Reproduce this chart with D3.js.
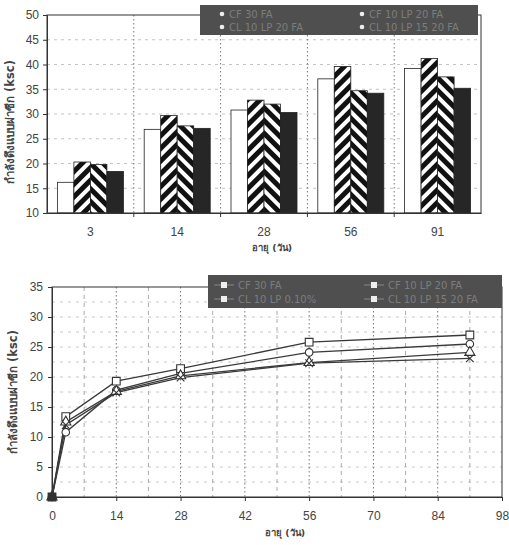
<!DOCTYPE html>
<html><head><meta charset="utf-8">
<script src="https://cdn.jsdelivr.net/npm/d3@7/dist/d3.min.js"></script>
<style>
body{margin:0;background:#fff;}
svg{display:block;font-family:"DejaVu Sans",Verdana,sans-serif;}
</style></head>
<body><svg id="c" width="509" height="545"></svg>
<script>
// ---- data: bar chart ----
const barAges = ["3","14","28","56","91"];
const barSeries = ["CF 30 FA","CF 10 LP 20 FA","CL 10 LP 20 FA","CL 10 LP 15 20 FA"];
const barS1 = [16.2, 26.9, 30.8, 37.1, 39.2];
const barS2 = [20.3, 29.7, 32.8, 39.6, 41.2];
const barS3 = [19.8, 27.6, 32.0, 34.7, 37.5];
const barS4 = [18.4, 27.1, 30.3, 34.2, 35.2];
const barYTicks = [10,15,20,25,30,35,40,45,50];

// ---- data: line chart ----
const lineDays = [0, 3, 14, 28, 56, 91];
const lineSeries = ["CF 30 FA","CF 10 LP 20 FA","CL 10 LP 0.10%","CL 10 LP 15 20 FA"];
const lineS1 = [0, 10.8, 17.8, 20.6, 24.1, 25.5];
const lineS2 = [0, 13.4, 19.3, 21.4, 25.8, 27.0];
const lineS3 = [0, 12.5, 17.6, 20.2, 22.4, 24.1];
const lineS4 = [0, 12.0, 17.4, 19.9, 22.3, 23.1];
const lineXTicks = [0,14,28,42,56,70,84,98];
const lineYTicks = [0,5,10,15,20,25,30,35];

const yTitle = "กำลังดึงแบบผ่าซีก (ksc)";
const xTitle = "อายุ (วัน)";

const svg = d3.select("#c");
const defs = svg.append("defs");
function stripe(id, angle){
  const p = defs.append("pattern").attr("id",id).attr("patternUnits","userSpaceOnUse")
    .attr("width",9).attr("height",9).attr("patternTransform","rotate("+angle+")");
  p.append("rect").attr("width",9).attr("height",9).attr("fill","#fff");
  p.append("rect").attr("width",5).attr("height",9).attr("fill","#111");
}
stripe("hA", 45);
stripe("hB", -45);
const fills = ["#fff","url(#hA)","url(#hB)","#262626"];
const textCol = "#444";

// ================= BAR CHART =================
const bL=47,bR=481,bT=15,bB=213;
const x0 = d3.scaleBand().domain(barAges).range([bL,bR]);
const x1 = d3.scaleBand().domain(barSeries).range([0,x0.bandwidth()]).paddingOuter(0.63);
const yb = d3.scaleLinear().domain([10,50]).range([bB,bT]);
const gb = svg.append("g");
gb.selectAll(".hg").data(barYTicks.filter(v=>v>10&&v<50)).join("line")
  .attr("x1",bL).attr("x2",bR).attr("y1",d=>yb(d)).attr("y2",d=>yb(d))
  .attr("stroke","#c4c4c4").attr("stroke-dasharray","3,4");
gb.selectAll(".vg").data(barAges.slice(1)).join("line")
  .attr("x1",d=>x0(d)).attr("x2",d=>x0(d)).attr("y1",bT).attr("y2",bB)
  .attr("stroke","#777").attr("stroke-dasharray","1.5,2.5");
const barData = [barS1,barS2,barS3,barS4];
barSeries.forEach((s,i)=>{
  gb.selectAll(".b"+i).data(barAges).join("rect")
    .attr("x",d=>x0(d)+x1(s)).attr("width",x1.bandwidth())
    .attr("y",(d,j)=>yb(barData[i][j])).attr("height",(d,j)=>bB-yb(barData[i][j]))
    .attr("fill",fills[i]).attr("stroke","#222").attr("stroke-width",0.8);
});
gb.append("rect").attr("x",bL).attr("y",bT).attr("width",bR-bL).attr("height",bB-bT)
  .attr("fill","none").attr("stroke","#333").attr("stroke-width",1);
const yAxB = gb.append("g").attr("transform",`translate(${bL},0)`)
  .call(d3.axisLeft(yb).tickValues(barYTicks).tickSize(4).tickPadding(4));
yAxB.select(".domain").attr("stroke","#333");
yAxB.selectAll("text").attr("font-size",12).attr("fill",textCol);
yAxB.selectAll("line").attr("stroke","#333");
const xAxB = gb.append("g").attr("transform",`translate(0,${bB})`)
  .call(d3.axisBottom(x0).tickSize(0).tickPadding(14));
xAxB.select(".domain").attr("stroke","#333");
xAxB.selectAll("text").attr("font-size",12).attr("fill",textCol);
gb.selectAll(".xt").data(barAges.slice(1)).join("line")
  .attr("x1",d=>x0(d)).attr("x2",d=>x0(d)).attr("y1",bB).attr("y2",bB+4).attr("stroke","#333");
gb.append("text").attr("x",272).attr("y",251).attr("text-anchor","middle")
  .attr("font-size",9.5).attr("font-weight","bold").attr("fill",textCol).text(xTitle);
gb.append("text").attr("transform",`translate(14,${(bT+bB)/2+8}) rotate(-90)`)
  .attr("text-anchor","middle").attr("font-size",11.5).attr("font-weight","bold").attr("fill",textCol).text(yTitle);
const lgB = gb.append("g").attr("transform","translate(200,5)");
lgB.append("rect").attr("width",278).attr("height",30).attr("fill","#4f4f4f");
barSeries.forEach((s,i)=>{
  const cx = (i%2)*140+22, cy = 9+Math.floor(i/2)*13;
  lgB.append("circle").attr("cx",cx).attr("cy",cy).attr("r",2.3).attr("fill","#eee");
  lgB.append("text").attr("x",cx+7).attr("y",cy+4).attr("font-size",10).attr("fill","#7d7d7d").text(s);
});

// ================= LINE CHART =================
const lL=52,lR=502,lT=287,lB=497;
const xl = d3.scaleLinear().domain([0,98]).range([lL,lR]);
const yl = d3.scaleLinear().domain([0,35]).range([lB,lT]);
const gl = svg.append("g");
const hgrid = d3.range(1,14).map(k=>k*2.5);
gl.selectAll(".lhg").data(hgrid).join("line")
  .attr("x1",lL).attr("x2",lR).attr("y1",d=>yl(d)).attr("y2",d=>yl(d))
  .attr("stroke","#c8c8c8").attr("stroke-dasharray","3,5");
const vgrid = d3.range(1,14).map(k=>k*7);
gl.selectAll(".lvg").data(vgrid).join("line")
  .attr("x1",d=>xl(d)).attr("x2",d=>xl(d)).attr("y1",lT).attr("y2",lB)
  .attr("stroke",d=>d%14===0?"#777":"#aaa")
  .attr("stroke-dasharray",d=>d%14===0?"1.5,2.5":"4,4");
gl.append("rect").attr("x",lL).attr("y",lT).attr("width",lR-lL).attr("height",lB-lT)
  .attr("fill","none").attr("stroke","#333").attr("stroke-width",1);
const yAxL = gl.append("g").attr("transform",`translate(${lL},0)`)
  .call(d3.axisLeft(yl).tickValues(lineYTicks).tickSize(4).tickPadding(5));
yAxL.select(".domain").attr("stroke","#333");
yAxL.selectAll("text").attr("font-size",12).attr("fill",textCol);
yAxL.selectAll("line").attr("stroke","#333");
const xAxL = gl.append("g").attr("transform",`translate(0,${lB})`)
  .call(d3.axisBottom(xl).tickValues(lineXTicks).tickSize(4).tickPadding(10));
xAxL.select(".domain").attr("stroke","#333");
xAxL.selectAll("text").attr("font-size",12).attr("fill",textCol);
xAxL.selectAll("line").attr("stroke","#333");
gl.append("text").attr("x",(lL+lR)/2+8).attr("y",536).attr("text-anchor","middle")
  .attr("font-size",9.5).attr("font-weight","bold").attr("fill",textCol).text(xTitle);
gl.append("text").attr("transform",`translate(17,${(lT+lB)/2}) rotate(-90)`)
  .attr("text-anchor","middle").attr("font-size",11.5).attr("font-weight","bold").attr("fill",textCol).text(yTitle);

const lineData = [lineS1,lineS2,lineS3,lineS4];
const symTypes = [d3.symbolCircle,d3.symbolSquare,d3.symbolTriangle,d3.symbolX];
const symSizes = [45,60,45,40];
const line = d3.line().x((d,j)=>xl(lineDays[j])).y(d=>yl(d));
lineData.forEach((arr,i)=>{
  gl.append("path").datum(arr).attr("d",line).attr("fill","none")
    .attr("stroke","#3a3a3a").attr("stroke-width",1.3);
});
lineData.forEach((arr,i)=>{
  gl.selectAll(".m"+i).data(arr).join("path")
    .attr("transform",(d,j)=>`translate(${xl(lineDays[j])},${yl(d)})`)
    .attr("d",d3.symbol().type(symTypes[i]).size(symSizes[i]))
    .attr("fill",(d,j)=> j===0 ? "#333" : (i===3?"none":"#fff"))
    .attr("stroke","#333").attr("stroke-width",1.1);
});
const lgL = gl.append("g").attr("transform","translate(208,275)");
lgL.append("rect").attr("width",294).attr("height",33).attr("fill","#4f4f4f");
lineSeries.forEach((s,i)=>{
  const lx = (i%2)*150+6, cy = 10+Math.floor(i/2)*14;
  lgL.append("line").attr("x1",lx).attr("x2",lx+20).attr("y1",cy).attr("y2",cy).attr("stroke","#888");
  lgL.append("rect").attr("x",lx+7).attr("y",cy-3).attr("width",6).attr("height",6).attr("fill","#eee");
  lgL.append("text").attr("x",lx+24).attr("y",cy+4).attr("font-size",10).attr("fill","#7d7d7d").text(s);
});
</script></body></html>
